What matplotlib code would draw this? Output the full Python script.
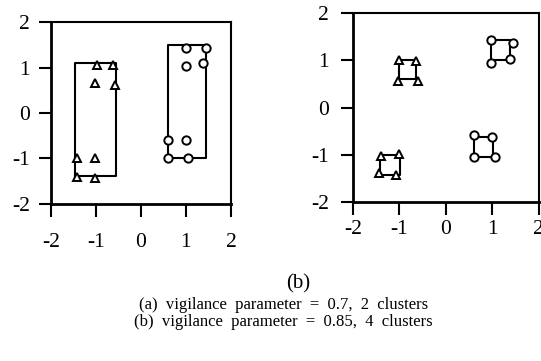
import matplotlib.pyplot as plt

plt.rcParams['font.family'] = ['Liberation Serif', 'DejaVu Serif']

# panel (a): two clusters
tri_a_x = [-1.42, -1.02, -1.41, -1.02, -1.02, -0.57, -0.97, -0.61]
tri_a_y = [-1.40, -1.44, -1.00, -0.98, 0.65, 0.61, 1.05, 1.05]
circ_a_x = [0.99, 1.45, 0.99, 1.37, 0.61, 0.99, 0.61, 1.05]
circ_a_y = [1.43, 1.43, 1.03, 1.09, -0.60, -0.60, -1.00, -1.00]
# boxes as (x0, x1, y0, y1)
boxes_a = [(-1.46, -0.55, -1.39, 1.10), (0.60, 1.45, -1.00, 1.49)]

# panel (b): four clusters
tri_b_x = [-1.00, -0.63, -1.02, -0.59, -1.39, -1.00, -1.44, -1.06]
tri_b_y = [1.01, 0.99, 0.56, 0.56, -1.03, -0.99, -1.38, -1.43]
circ_b_x = [0.98, 1.44, 0.98, 1.37, 0.60, 1.00, 0.60, 1.05]
circ_b_y = [1.42, 1.36, 0.95, 1.02, -0.58, -0.63, -1.04, -1.04]
boxes_b = [(-1.00, -0.63, 0.60, 1.01), (-1.41, -0.99, -1.43, -1.01),
           (0.98, 1.37, 1.01, 1.42), (0.60, 1.01, -1.04, -0.62)]

ticks = [-2, -1, 0, 1, 2]


def draw_panel(ax, tx, ty, cx, cy, boxes, xpad, ypad):
    for x0, x1, y0, y1 in boxes:
        ax.plot([x0, x1, x1, x0, x0], [y0, y0, y1, y1, y0], color='black', lw=1.5)
    ax.plot(tx, ty, linestyle='none', marker='^', ms=6, mfc='white',
            mec='black', mew=1.4)
    ax.plot(cx, cy, linestyle='none', marker='o', ms=6, mfc='white',
            mec='black', mew=1.4)
    ax.set_xlim(-2, 2)
    ax.set_ylim(-2, 2)
    ax.set_xticks(ticks)
    ax.set_yticks(ticks)
    ax.set_xticklabels([str(t) for t in ticks])
    ax.set_yticklabels([str(t) for t in ticks])
    for side in ['left', 'bottom']:
        ax.spines[side].set_linewidth(2.0)
    for side in ['top', 'right']:
        ax.spines[side].set_linewidth(1.5)
    ax.tick_params(axis='x', direction='out', length=9, width=1.5,
                   labelsize=15.5, pad=xpad)
    ax.tick_params(axis='y', direction='out', length=9, width=1.5,
                   labelsize=15.5, pad=ypad)


fig = plt.figure(figsize=(5.41, 3.61), dpi=100)
ax1 = fig.add_axes([0.094, 0.435, 0.333, 0.504])
ax2 = fig.add_axes([0.652, 0.440, 0.344, 0.524])

draw_panel(ax1, tri_a_x, tri_a_y, circ_a_x, circ_a_y, boxes_a, 12, 6)
draw_panel(ax2, tri_b_x, tri_b_y, circ_b_x, circ_b_y, boxes_b, 4, 8)

fig.text(0.551, 0.213, '(b)', ha='center', va='center', fontsize=15)
fig.text(0.524, 0.155, '(a)  vigilance  parameter  =  0.7,  2  clusters',
         ha='center', va='center', fontsize=12)
fig.text(0.524, 0.107, '(b)  vigilance  parameter  =  0.85,  4  clusters',
         ha='center', va='center', fontsize=12)

fig.savefig('out.png', dpi=100)
